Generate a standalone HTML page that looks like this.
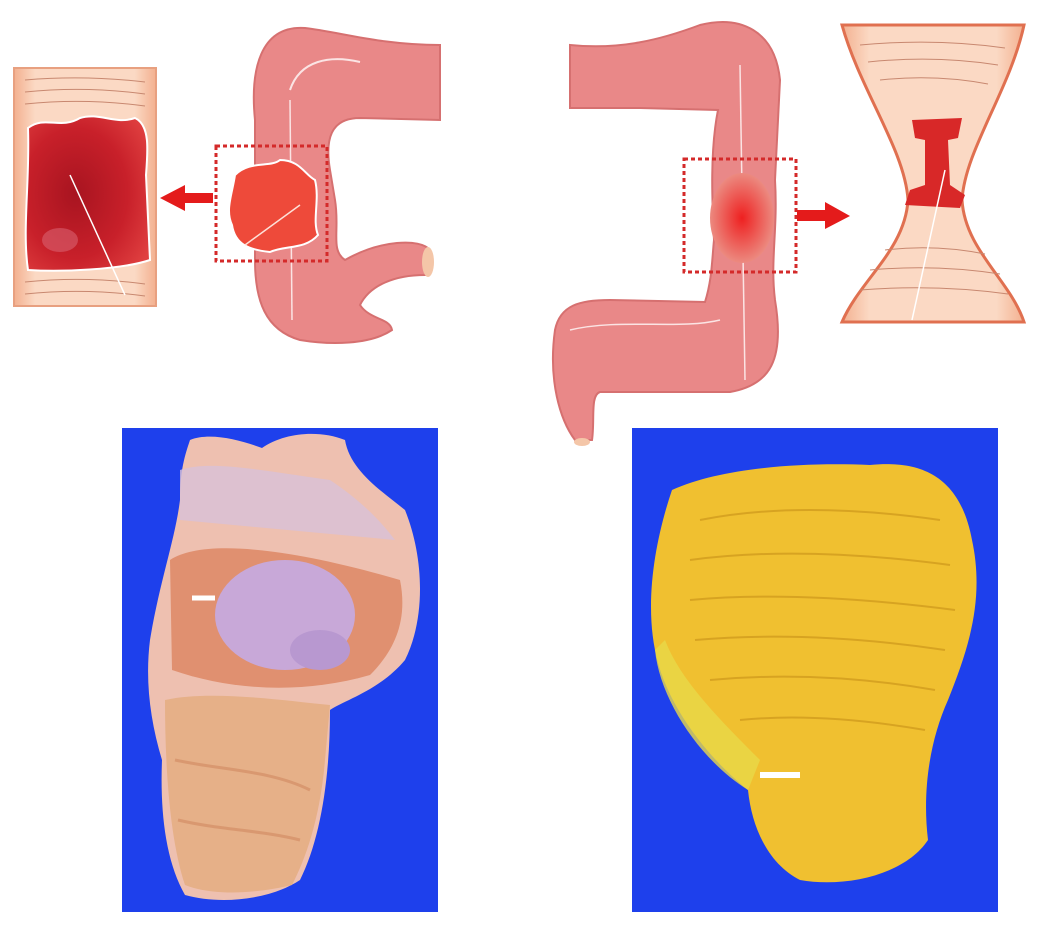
<!DOCTYPE html>
<html><head><meta charset="utf-8"><style>
html,body{margin:0;padding:0;background:#fff;}
svg{display:block}
</style></head><body>
<svg width="1043" height="947" viewBox="0 0 1043 947" xmlns="http://www.w3.org/2000/svg">
<defs>
<linearGradient id="peach" x1="0" x2="1"><stop offset="0" stop-color="#f3b08f"/><stop offset="0.15" stop-color="#fbd9c4"/><stop offset="0.85" stop-color="#fbd9c4"/><stop offset="1" stop-color="#f3b08f"/></linearGradient>
<radialGradient id="mass" cx="0.4" cy="0.5" r="0.7"><stop offset="0" stop-color="#a81420"/><stop offset="0.6" stop-color="#c8202a"/><stop offset="1" stop-color="#e04040"/></radialGradient>
<radialGradient id="strict" cx="0.5" cy="0.5" r="0.5"><stop offset="0" stop-color="#ee2020"/><stop offset="1" stop-color="#ec8a80"/></radialGradient>
</defs>

<g>
<path d="M440,45 L440,120 L360,118 C330,118 325,140 330,170 L335,200 C340,230 330,250 345,260 C380,240 420,238 430,250 L425,275 C395,275 370,285 360,305 C370,320 390,318 392,330 C370,345 330,345 300,340 C265,330 255,300 255,260 L255,120 C250,70 260,25 305,28 C340,32 380,45 440,45 Z" fill="#e98888" stroke="#d67070" stroke-width="2"/>
<ellipse cx="428" cy="262" rx="6" ry="15" fill="#f4c6a8"/>
<path d="M290,90 C300,60 330,55 360,62" stroke="#fbe4e4" stroke-width="2" fill="none"/>
<path d="M290,100 L292,320" stroke="#fbe4e4" stroke-width="1.5" fill="none"/>
</g>
<g>
<path d="M235,175 C250,160 270,168 280,160 C300,160 305,175 315,180 C320,200 312,220 318,235 C305,250 285,245 270,252 C250,250 235,245 232,225 C225,210 232,195 235,175 Z" fill="#ee4a3a" stroke="#fff" stroke-width="2"/>
<path d="M245,245 L300,205" stroke="#fde0d8" stroke-width="1.5"/>
</g>
<rect x="216" y="146" width="111" height="115" fill="none" stroke="#d42a2a" stroke-width="3" stroke-dasharray="4,3"/>
<path d="M213,193 L185,193 L185,185 L160,198 L185,211 L185,203 L213,203 Z" fill="#e41b1b"/>

<g>
<rect x="14" y="68" width="142" height="238" fill="url(#peach)" stroke="#e8a080" stroke-width="2"/>
<g stroke="#c88870" stroke-width="1" fill="none">
<path d="M25,80 Q85,75 145,82"/><path d="M25,92 Q85,86 145,94"/><path d="M25,104 Q85,98 145,106"/>
<path d="M25,282 Q85,276 145,284"/><path d="M25,294 Q85,288 145,296"/>
</g>
<path d="M28,128 C45,115 60,130 80,118 C100,112 115,125 135,118 C150,125 148,150 146,175 L150,260 C120,270 60,272 28,270 C22,230 30,180 28,128 Z" fill="url(#mass)" stroke="#fff" stroke-width="2"/>
<ellipse cx="60" cy="240" rx="18" ry="12" fill="#d86070" opacity="0.6"/>
<path d="M70,175 L125,295" stroke="#fff" stroke-width="1.5"/>
</g>

<g>
<path d="M570,45 C620,50 660,40 700,25 C740,15 775,30 780,80 L775,180 C778,230 770,260 775,300 C785,360 770,385 730,392 L600,392 C590,395 595,420 592,440 L575,440 C560,420 548,380 555,330 C560,305 580,300 610,300 L705,302 C712,280 712,260 714,240 C712,200 710,150 718,110 L640,108 L570,108 Z" fill="#e98888" stroke="#d67070" stroke-width="2"/>
<ellipse cx="582" cy="442" rx="8" ry="4" fill="#f4c6a8"/>
<path d="M740,65 L745,380" stroke="#fbe4e4" stroke-width="1.5" fill="none"/>
<path d="M570,330 C620,318 680,330 720,320" stroke="#fbe4e4" stroke-width="1.5" fill="none"/>
</g>
<ellipse cx="742" cy="218" rx="32" ry="45" fill="url(#strict)"/>
<rect x="684" y="159" width="112" height="113" fill="none" stroke="#d42a2a" stroke-width="3" stroke-dasharray="4,3"/>
<path d="M797,210 L825,210 L825,202 L850,216 L825,229 L825,221 L797,221 Z" fill="#e41b1b"/>

<g>
<path d="M842,25 L1024,25 C1010,90 965,150 962,200 C965,250 1010,280 1024,322 L842,322 C860,280 905,250 908,200 C905,150 860,90 842,25 Z" fill="url(#peach)" stroke="#e07050" stroke-width="3"/>
<g stroke="#c88870" stroke-width="1" fill="none">
<path d="M860,45 Q935,38 1005,48"/><path d="M868,62 Q935,55 998,65"/><path d="M880,80 Q935,74 988,84"/>
<path d="M885,250 Q935,244 985,254"/><path d="M870,270 Q935,264 1000,274"/><path d="M860,290 Q935,284 1008,294"/>
</g>
<path d="M912,120 L962,118 L958,138 L948,140 L950,185 L965,195 L960,208 L905,205 L910,190 L925,185 L925,140 L915,138 Z" fill="#d82828"/>
<path d="M945,170 L912,320" stroke="#fff" stroke-width="1.5"/>
</g>

<rect x="122" y="428" width="316" height="484" fill="#1e40ec"/>
<g>
<path d="M190,440 C210,432 240,440 262,448 C285,432 320,430 345,440 C350,470 380,490 405,510 C425,560 425,620 405,660 C380,690 345,700 330,710 C330,780 320,840 300,880 C270,900 220,905 185,895 C165,860 160,810 162,760 C150,720 145,680 150,640 C160,580 175,540 180,500 C180,470 185,455 190,440 Z" fill="#eec0b0"/>
<path d="M180,470 C210,460 260,470 330,480 C360,500 380,520 395,540 L180,520 Z" fill="#d8c0d8" opacity="0.8"/>
<path d="M170,560 C200,540 280,545 400,580 C408,620 395,650 370,675 C300,695 230,690 172,670 Z" fill="#e09070"/>
<ellipse cx="285" cy="615" rx="70" ry="55" fill="#c8a8d8"/>
<ellipse cx="320" cy="650" rx="30" ry="20" fill="#b898d0"/>
<path d="M165,700 C210,690 280,700 330,705 L325,760 C320,820 305,860 292,885 C250,895 210,895 185,885 C170,840 165,770 165,700 Z" fill="#e6b088"/>
<path d="M175,760 C220,770 270,770 310,790" stroke="#d08860" stroke-width="3" fill="none" opacity="0.6"/>
<path d="M178,820 C220,830 260,830 300,840" stroke="#d08860" stroke-width="3" fill="none" opacity="0.6"/>
<path d="M192,598 L215,598" stroke="#fff" stroke-width="5"/>
</g>

<rect x="632" y="428" width="366" height="484" fill="#1e40ec"/>
<g>
<path d="M672,490 C720,468 800,462 870,465 C920,460 960,475 972,540 C985,600 968,650 948,700 C930,740 922,790 928,840 C905,875 845,888 800,880 C770,865 752,830 748,790 C710,760 665,705 655,650 C645,600 655,540 672,490 Z" fill="#f0c030"/>
<path d="M655,650 C660,700 700,760 748,790 L760,760 C720,720 680,680 665,640 Z" fill="#e8d848" opacity="0.8"/>
<g stroke="#c89018" stroke-width="2" fill="none" opacity="0.6">
<path d="M700,520 Q800,500 940,520"/><path d="M690,560 Q800,545 950,565"/><path d="M690,600 Q800,590 955,610"/>
<path d="M695,640 Q810,630 945,650"/><path d="M710,680 Q820,670 935,690"/><path d="M740,720 Q820,712 925,730"/>
</g>
<path d="M760,775 L800,775" stroke="#fff" stroke-width="6"/>
</g>
</svg>
</body></html>
